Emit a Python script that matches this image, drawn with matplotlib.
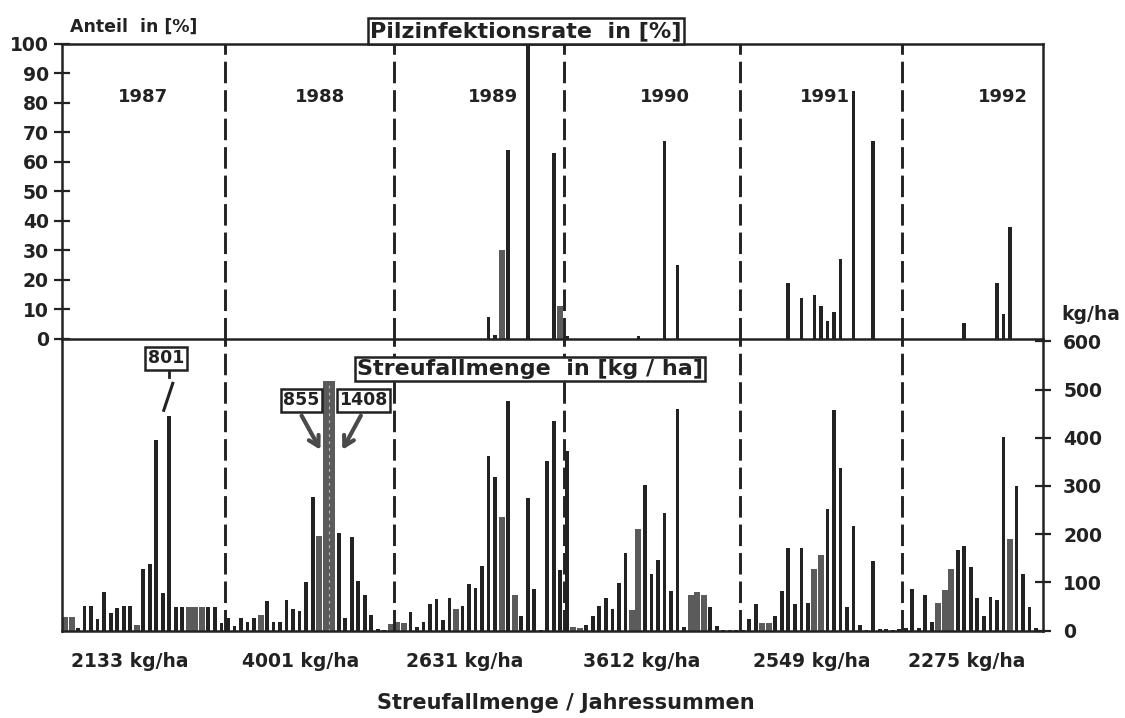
import matplotlib
matplotlib.use("Agg")
import matplotlib.pyplot as plt
from matplotlib.patches import FancyArrowPatch
from matplotlib.transforms import blended_transform_factory

plt.rcParams["font.family"] = "DejaVu Sans"
plt.rcParams["font.weight"] = "bold"
plt.rcParams["lines.scale_dashes"] = False

years = [1987, 1988, 1989, 1990, 1991, 1992]

# Litterfall per sampling interval (kg/ha)
litter_1987 = [28, 28, 5, 50, 50, 23, 80, 37, 47, 50, 50, 12, 128, 137, 395, 78, 801,
               49, 49, 49, 49, 49, 49, 49, 15]
litter_1988 = [26, 10, 26, 17, 25, 32, 62, 18, 18, 64, 44, 40, 100, 277, 196, 855, 1408,
               202, 25, 195, 103, 74, 33, 3, 1, 14]
litter_1989 = [17, 15, 39, 8, 17, 56, 66, 21, 67, 44, 51, 97, 89, 134, 363, 318, 236, 476,
               73, 30, 275, 86, 1, 352, 435, 126]
litter_1990 = [372, 7, 5, 11, 30, 51, 67, 45, 99, 160, 42, 211, 303, 117, 146, 244, 82, 460,
               7, 74, 79, 74, 49, 9, 2, 2, 2]
litter_1991 = [2, 24, 56, 15, 15, 31, 83, 171, 56, 171, 57, 127, 157, 252, 457, 338, 49, 216,
               12, 1, 145, 3, 3, 1, 3]
litter_1992 = [5, 87, 6, 73, 17, 57, 85, 127, 168, 175, 131, 68, 31, 70, 64, 402, 190, 300,
               117, 48, 5]

# Annual litterfall sums (kg/ha)
annual_totals = [2133, 4001, 2631, 3612, 2549, 2275]

# Fungal infection rate (%): sampling index within the year and rate
rate_idx_1989 = [14, 15, 16, 17, 20, 24, 25]
rate_val_1989 = [7.5, 1.5, 30, 64, 100, 63, 11]
rate_idx_1990 = [0, 11, 15, 17]
rate_val_1990 = [1, 1, 67, 25]
rate_idx_1991 = [7, 9, 11, 12, 13, 14, 15, 17, 20]
rate_val_1991 = [19, 14, 15, 11, 6, 9, 27, 84, 67]
rate_idx_1992 = [9, 14, 15, 16]
rate_val_1992 = [5.5, 19, 8.5, 38]

litter = [litter_1987, litter_1988, litter_1989, litter_1990, litter_1991, litter_1992]
rates = {1989: (rate_idx_1989, rate_val_1989), 1990: (rate_idx_1990, rate_val_1990),
         1991: (rate_idx_1991, rate_val_1991), 1992: (rate_idx_1992, rate_val_1992)}

# ---- styling -------------------------------------------------------------
DARK = "#222222"
GRAY = "#5b5b5b"
# samples drawn as wide grey bars (longer collection intervals)
wide_litter = {1987: [0, 1, 11, 19, 20, 21], 1988: [5, 14, 15, 16, 25],
               1989: [0, 1, 9, 16, 18], 1990: [1, 2, 10, 11, 19, 20, 21],
               1991: [3, 4, 11, 12], 1992: [5, 6, 7, 16]}
wide_rate = {1989: [16, 25]}
broken_bar = (1987, 16)      # bar drawn with an axis break
BREAK_SHOW = 445
YMAX_LITTER = 605
OVER_SHOW = 518              # display height of off-scale bars
year_label_pos = [12.0, 39.1, 65.7, 92.1, 116.6, 143.9]
total_label_pos = [10.0, 36.1, 61.4, 88.5, 114.6, 138.3]

starts = []
n = 0
for vals in litter:
    starts.append(n)
    n += len(vals)
XMIN, XMAX = -0.46, n + 0.07

W, H = 1125, 718
fig = plt.figure(figsize=(W / 100, H / 100), dpi=100)
fig.patch.set_facecolor("white")


def fx(px):
    return px / W


def fy(py):
    return 1 - py / H


L, R = 62, 1043
ax_top = fig.add_axes([fx(L), fy(339), fx(R - L), (339 - 43.5) / H])
ax_bot = fig.add_axes([fx(L), fy(630.5), fx(R - L), (630.5 - 339) / H])

for ax in (ax_top, ax_bot):
    ax.set_xlim(XMIN, XMAX)
    ax.set_xticks([])
    for sp in ax.spines.values():
        sp.set_linewidth(1.8)
        sp.set_color(DARK)
    ax.set_facecolor("none")

ax_top.set_ylim(0, 100)
ax_bot.set_ylim(0, YMAX_LITTER)
ax_bot.spines["top"].set_visible(False)

ax_top.set_yticks(range(0, 101, 10))
ax_top.tick_params(axis="y", left=True, right=False, direction="inout", length=11,
                   width=1.6, pad=4, labelsize=13.5, colors=DARK)
ax_bot.yaxis.tick_right()
ax_bot.set_yticks(range(0, 601, 100))
ax_bot.tick_params(axis="y", direction="inout", length=11, width=1.6, pad=9,
                   labelsize=13.5, colors=DARK)

# ---- litterfall bars -----------------------------------------------------
for year, vals, s0 in zip(years, litter, starts):
    wide = wide_litter.get(year, [])
    for i, v in enumerate(vals):
        if (year, i) == broken_bar:
            h = BREAK_SHOW
        elif v > YMAX_LITTER:
            h = OVER_SHOW
        else:
            h = v
        if i in wide:
            ax_bot.bar(s0 + i, h, width=0.92, color=GRAY, zorder=2, linewidth=0)
        else:
            ax_bot.bar(s0 + i, h, width=0.58, color=DARK, zorder=2, linewidth=0)

# ---- infection rate bars -------------------------------------------------
for year, s0 in zip(years, starts):
    if year not in rates:
        continue
    idx, vals = rates[year]
    wide = wide_rate.get(year, [])
    for i, v in zip(idx, vals):
        if i in wide:
            ax_top.bar(s0 + i, v, width=0.92, color=GRAY, zorder=2, linewidth=0)
        else:
            ax_top.bar(s0 + i, v, width=0.58, color=DARK, zorder=2, linewidth=0)

# ---- year separators and labels -----------------------------------------
for s0 in starts[1:]:
    for ax in (ax_top, ax_bot):
        ax.axvline(s0 - 0.5, color=DARK, lw=2.1, dashes=(15.5, 5), zorder=3)

for year, xp in zip(years, year_label_pos):
    ax_top.text(xp, 82, str(year), ha="center", va="center", fontsize=13,
                color=DARK, zorder=1)

box = dict(boxstyle="square,pad=0.15", facecolor="white", edgecolor=DARK, linewidth=1.8)

# broken bar with its true value
by, bi = broken_bar
bx = starts[years.index(by)] + bi
ax_bot.plot([bx - 0.92, bx + 0.61], [454, 516], color=DARK, lw=2.2,
            solid_capstyle="butt", zorder=3)
ax_bot.plot([bx, bx], [526, 537], color=DARK, lw=2, zorder=3)
ax_bot.text(bx - 0.5, 565, f"{litter[years.index(by)][bi]}", ha="center", va="center",
            fontsize=12.5, color=DARK, bbox=box, zorder=5)

# two off-scale bars of 1988 with value labels and arrows
s88 = starts[years.index(1988)]
i_a, i_b = s88 + 15, s88 + 16
ax_bot.plot([i_a + 0.5, i_a + 0.5], [0, OVER_SHOW], color="#bdbdbd", lw=0.8,
            dashes=(2, 3), zorder=2.5)
ax_bot.text(i_a - 0.95, 478, f"{litter_1988[15]}", ha="right", va="center",
            fontsize=12.5, color=DARK, bbox=box, zorder=5)
ax_bot.text(i_b + 1.1, 478, f"{litter_1988[16]}", ha="left", va="center",
            fontsize=12.5, color=DARK, bbox=box, zorder=5)
for (x0, x1) in [(i_a - 3.9, i_a - 0.6), (i_b + 4.6, i_b + 1.35)]:
    arr = FancyArrowPatch((x0, 451), (x1, 370), arrowstyle="->,head_length=7,head_width=4",
                          color="#4a4a4a", lw=3, mutation_scale=1, zorder=4)
    ax_bot.add_patch(arr)

# ---- titles and annotations ---------------------------------------------
fig.text(fx(70), fy(27), "Anteil  in [%]", ha="left", va="center", fontsize=12.5, color=DARK)
fig.text(fx(526), fy(31), "Pilzinfektionsrate  in [%]", ha="center", va="center",
         fontsize=16, color=DARK, bbox=dict(boxstyle="square,pad=0.12", facecolor="white",
                                            edgecolor=DARK, linewidth=1.8), zorder=6)
fig.text(fx(530), fy(369), "Streufallmenge  in [kg / ha]", ha="center", va="center",
         fontsize=16, color=DARK, bbox=dict(boxstyle="square,pad=0.1", facecolor="white",
                                            edgecolor=DARK, linewidth=1.8), zorder=6)
fig.text(fx(1091), fy(314), "kg/ha", ha="center", va="center", fontsize=13.5, color=DARK)

tr = blended_transform_factory(ax_bot.transData, ax_bot.transAxes)
for total, xp in zip(annual_totals, total_label_pos):
    ax_bot.text(xp, -0.108, f"{total} kg/ha", transform=tr, ha="center", va="center",
                fontsize=13.5, color=DARK, clip_on=False)

fig.text(fx(566), fy(703), "Streufallmenge / Jahressummen", ha="center", va="center",
         fontsize=15, color=DARK)

fig.savefig("out.png", dpi=100, facecolor="white")
